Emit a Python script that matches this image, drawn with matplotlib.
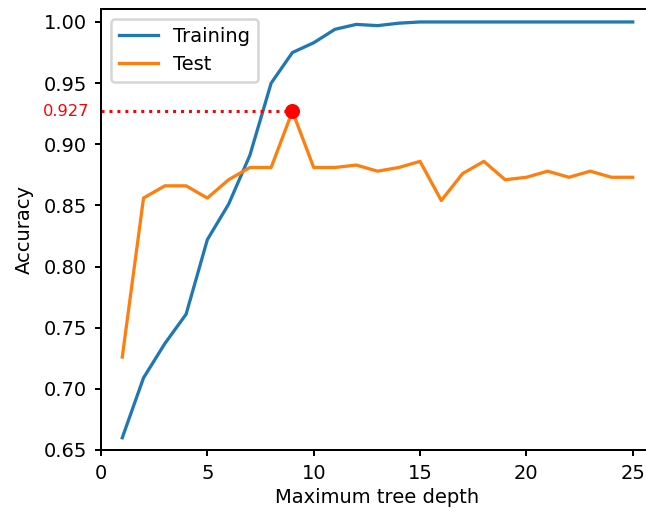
import numpy as np
import matplotlib
matplotlib.use("Agg")
import matplotlib.pyplot as plt

# tree depths and accuracies
depth = list(range(1, 26))
train_acc = [0.660, 0.709, 0.737, 0.761, 0.822, 0.851, 0.891, 0.950, 0.975, 0.983,
             0.994, 0.998, 0.997, 0.999, 1.000, 1.000, 1.000, 1.000, 1.000, 1.000,
             1.000, 1.000, 1.000, 1.000, 1.000]
test_acc = [0.726, 0.856, 0.866, 0.866, 0.856, 0.871, 0.881, 0.881, 0.927, 0.881,
            0.881, 0.883, 0.878, 0.881, 0.886, 0.854, 0.876, 0.886, 0.871, 0.873,
            0.878, 0.873, 0.878, 0.873, 0.873]

best_i = int(np.argmax(test_acc))
best_depth = depth[best_i]
best_acc = test_acc[best_i]

plt.rcParams["font.size"] = 7.8
plt.rcParams["xtick.major.size"] = 2.2
plt.rcParams["ytick.major.size"] = 2.2

dpi = 180
fig = plt.figure(figsize=(646 / dpi, 513 / dpi), dpi=dpi)
# axes run just past the right edge, the reference is cropped there
ax = fig.add_axes([101 / 646, 1 - 450 / 513, 553 / 646, 441 / 513])

ax.plot(depth, train_acc, label="Training", lw=1.3)
ax.plot(depth, test_acc, label="Test", lw=1.3)
ax.plot([0, best_depth], [best_acc, best_acc], "r:", lw=1.2)
ax.plot(best_depth, best_acc, "o", color="red", ms=5)
ax.text(-0.55, best_acc, f"{best_acc:.3f}", color="red", ha="right", va="center",
        fontsize=6.5)

ax.set_xlim(0, 26)
ax.set_ylim(0.65, 1.0106)
ax.set_xticks([0, 5, 10, 15, 20, 25])
ax.set_xlabel("Maximum tree depth", labelpad=2)
ax.set_ylabel("Accuracy")
ax.legend(loc="upper left")

fig.savefig("out.png", dpi=dpi)
